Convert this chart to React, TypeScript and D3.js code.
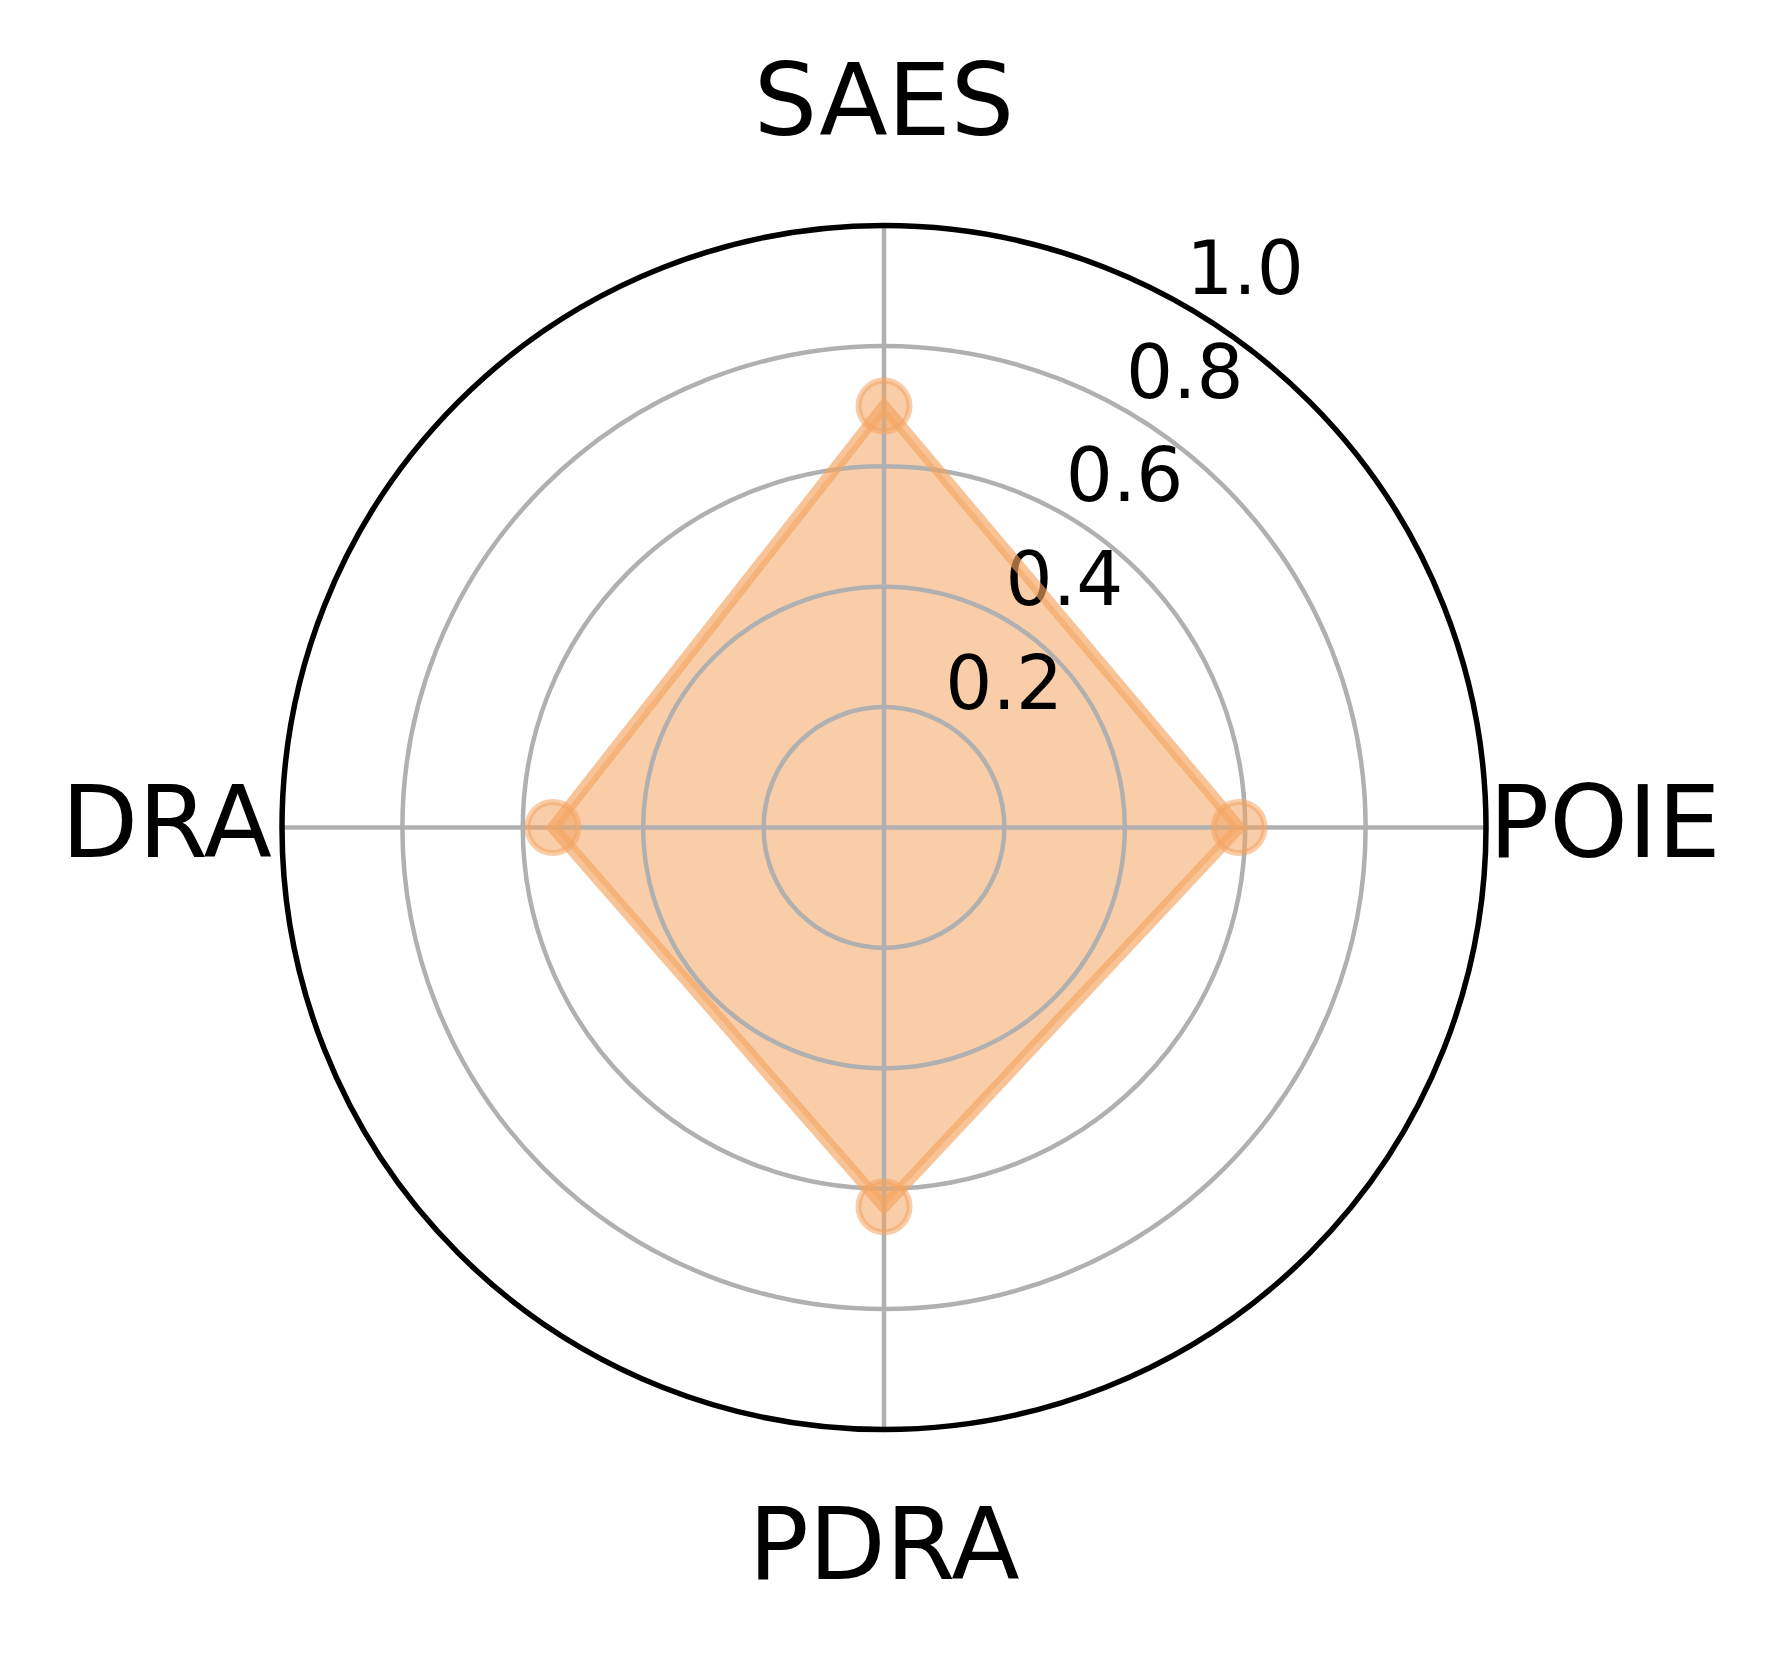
import * as d3 from "d3";
import { useRef, useEffect } from "react";

// radar axes and the single series
const categories = ["SAES", "POIE", "PDRA", "DRA"];
const values = [0.7, 0.59, 0.63, 0.55];
const ringTicks = [0.2, 0.4, 0.6, 0.8];
const tickLabels = ["0.2", "0.4", "0.6", "0.8", "1.0"];
const tickValues = [0.2, 0.4, 0.6, 0.8, 1.0];

export default function App() {
    const svgRef = useRef<SVGSVGElement>(null);

    useEffect(() => {
        const svg = d3.select(svgRef.current);
        svg.selectAll("*").remove();

        const width = 1779;
        const height = 1655;
        const cx = 884;
        const cy = 827.5;
        const outer = 602;
        const color = "#F4A460";

        svg.attr("width", width).attr("height", height);
        svg.append("rect").attr("width", width).attr("height", height).attr("fill", "white");

        const r = d3.scaleLinear().domain([0, 1]).range([0, outer]);
        const angle = d3.scaleLinear().domain([0, categories.length]).range([0, 2 * Math.PI]);

        const g = svg.append("g").attr("transform", `translate(${cx},${cy})`);

        const radial = d3.lineRadial<number>()
            .angle((d, i) => angle(i))
            .radius(d => r(d))
            .curve(d3.curveLinearClosed);

        // filled area sits under the grid
        g.append("path").attr("d", radial(values))
            .attr("fill", color).attr("fill-opacity", 0.55).attr("stroke", "none");

        // grid rings
        g.selectAll("circle.ring").data(ringTicks).enter().append("circle")
            .attr("class", "ring").attr("r", d => r(d))
            .attr("fill", "none").attr("stroke", "#b0b0b0").attr("stroke-width", 4.5);

        // spokes
        g.selectAll("line.spoke").data(categories).enter().append("line")
            .attr("x1", 0).attr("y1", 0)
            .attr("x2", (d, i) => Math.sin(angle(i)) * r(1))
            .attr("y2", (d, i) => -Math.cos(angle(i)) * r(1))
            .attr("stroke", "#b0b0b0").attr("stroke-width", 4.5);

        // radial tick labels along the 30 degree ray (under the data line)
        g.selectAll("text.rtick").data(tickValues).enter().append("text")
            .attr("class", "rtick")
            .attr("x", d => 60 + 0.5 * r(d))
            .attr("y", d => -41.7 - 0.862 * r(d) + 27)
            .attr("text-anchor", "middle")
            .attr("font-family", "DejaVu Sans")
            .attr("font-size", 74)
            .attr("fill", "black")
            .text((d, i) => tickLabels[i]);

        // category labels
        g.selectAll("text.cat").data(categories).enter().append("text")
            .attr("class", "cat")
            .attr("x", (d, i) => {
                const s = Math.sin(angle(i));
                return s * (s > 0 ? 605 : 612);
            })
            .attr("y", (d, i) => -Math.cos(angle(i)) * 722 + 29)
            .attr("text-anchor", (d, i) => {
                const s = Math.sin(angle(i));
                return Math.abs(s) < 0.01 ? "middle" : s > 0 ? "start" : "end";
            })
            .attr("font-family", "DejaVu Sans")
            .attr("font-size", 100)
            .attr("fill", "black")
            .text(d => d);

        // data line
        g.append("path").attr("d", radial(values))
            .attr("fill", "none").attr("stroke", color).attr("stroke-opacity", 0.65)
            .attr("stroke-width", 12).attr("stroke-linejoin", "miter");

        // markers
        g.selectAll("circle.pt").data(values).enter().append("circle")
            .attr("class", "pt")
            .attr("cx", (d, i) => Math.sin(angle(i)) * r(d))
            .attr("cy", (d, i) => -Math.cos(angle(i)) * r(d))
            .attr("r", 25.5)
            .attr("fill", color).attr("fill-opacity", 0.55)
            .attr("stroke", color).attr("stroke-opacity", 0.55).attr("stroke-width", 6);

        // outer spine
        g.append("circle").attr("r", r(1)).attr("fill", "none").attr("stroke", "black").attr("stroke-width", 5.5);
    }, []);

    return (
        <svg ref={svgRef} style={{ position: "absolute", left: 0, top: 0, display: "block" }} />
    );
}
